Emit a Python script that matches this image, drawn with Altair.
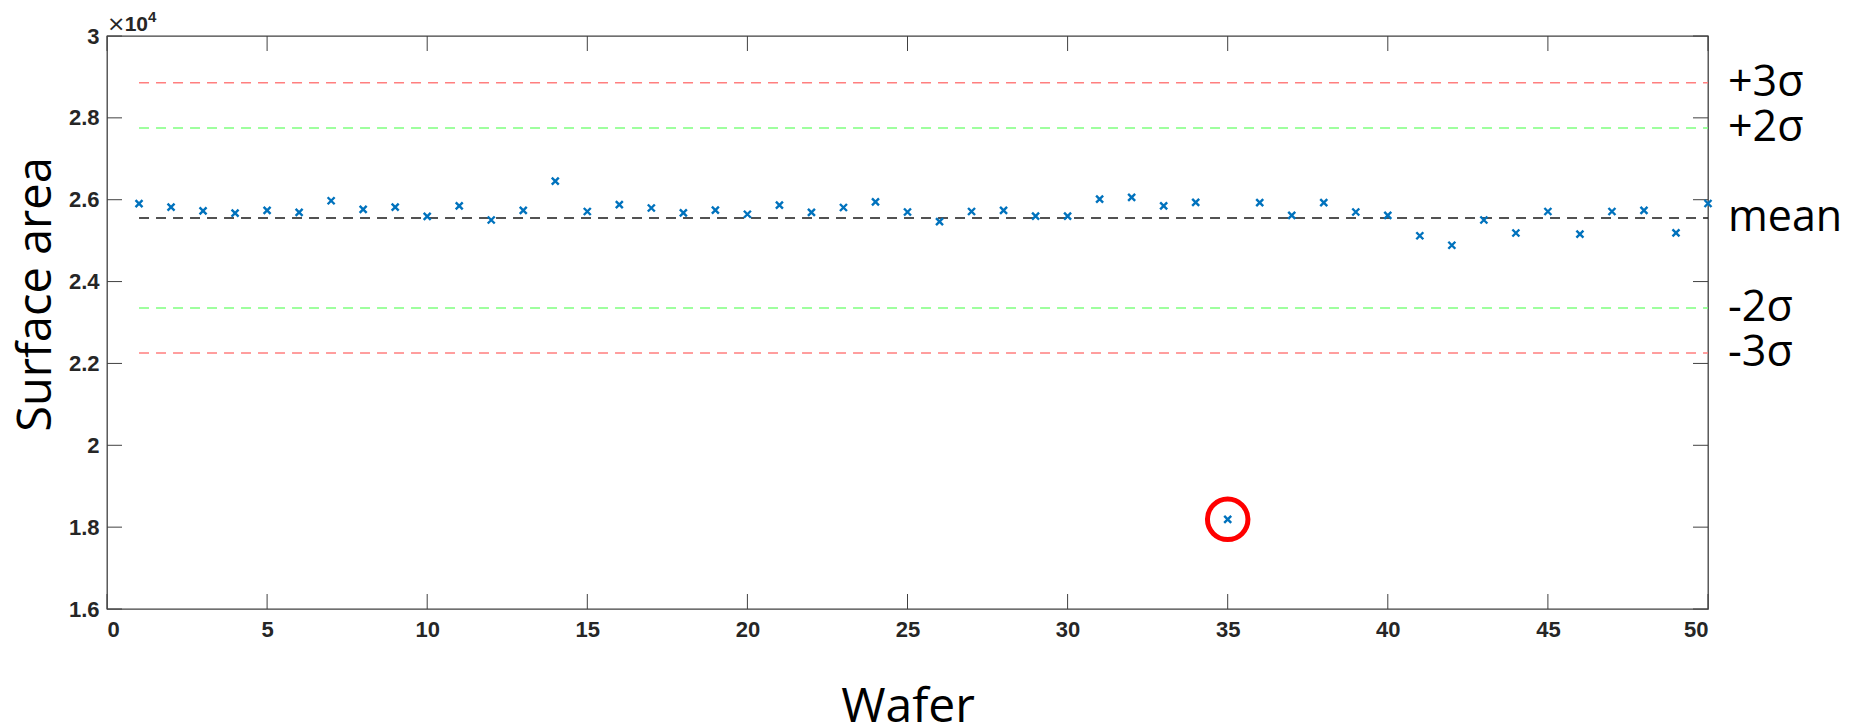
import altair as alt
import pandas as pd

# ---- data ----
wafers = list(range(1, 51))
surface_area = [
    25905, 25820, 25725, 25670, 25740, 25690, 25975, 25765, 25820, 25595,
    25850, 25505, 25740, 26455, 25712, 25880, 25797, 25678, 25745, 25645,
    25866, 25690, 25810, 25947, 25700, 25465, 25712, 25740, 25600, 25600,
    26015, 26058, 25850, 25935, 18190, 25930, 25615, 25930, 25700, 25615,
    25120, 24888, 25505, 25187, 25712, 25160, 25712, 25740, 25190, 25907,
]
level_names = ["+3σ", "+2σ", "mean", "-2σ", "-3σ"]
level_values = [28855, 27755, 25555, 23355, 22255]
level_colors = ["#FF7F7F", "#7FFF7F", "#1a1a1a", "#7FFF7F", "#FF7F7F"]
x_ticks = [0, 5, 10, 15, 20, 25, 30, 35, 40, 45, 50]
y_ticks = [16000, 18000, 20000, 22000, 24000, 26000, 28000, 30000]
highlighted_wafers = [35]

W, H = 1601, 573
TICK = 15

df = pd.DataFrame({"Wafer": wafers, "Surface area": surface_area})
levels = pd.DataFrame({
    "level": level_names,
    "Surface area": level_values,
    "x0": [wafers[0]] * len(level_names),
    "x1": [wafers[-1]] * len(level_names),
})
xt = pd.DataFrame({"Wafer": x_ticks})
yt = pd.DataFrame({"Surface area": y_ticks})
hl = df[df["Wafer"].isin(highlighted_wafers)]

xs = alt.Scale(domain=[x_ticks[0], x_ticks[-1]], nice=False, zero=False)
ys = alt.Scale(domain=[y_ticks[0], y_ticks[-1]], nice=False, zero=False)

label_font = "Liberation Sans"
x_axis = alt.Axis(
    values=x_ticks, grid=False, ticks=False, domain=False,
    labelFont=label_font, labelFontSize=22, labelFontWeight="bold", labelColor="#262626",
    labelPadding=10, format="d",
    titleFont="Open Sans", titleFontSize=48, titleFontWeight="normal", titleColor="black",
    titleY=112, titleBaseline="alphabetic",
)
y_axis = alt.Axis(
    values=y_ticks, grid=False, ticks=False, domain=False,
    labelFont=label_font, labelFontSize=22, labelFontWeight="bold", labelColor="#262626",
    labelPadding=8, labelExpr="format(datum.value / 10000, '.1~f')",
    titleFont="Open Sans", titleFontSize=47, titleFontWeight="normal", titleColor="black",
    titleAngle=270, titleX=-57, titleY=258, titleAlign="center", titleBaseline="alphabetic",
)


def X(field):
    return alt.X(field, scale=xs, axis=x_axis, title="Wafer")


def Y(field):
    return alt.Y(field, scale=ys, axis=y_axis, title="Surface area")


lines = alt.Chart(levels).mark_rule(strokeDash=[10, 7], strokeWidth=1.5).encode(
    x=X("x0:Q"),
    x2="x1:Q",
    y=Y("Surface area:Q"),
    color=alt.Color("level:N", scale=alt.Scale(domain=level_names, range=level_colors), legend=None),
)

level_labels = alt.Chart(levels).mark_text(
    align="left", baseline="alphabetic", dy=13, font="Open Sans", fontSize=43, color="black"
).encode(
    x=alt.value(W + 20),
    y=Y("Surface area:Q"),
    text="level:N",
)

tick_color = "#404040"
bottom_ticks = alt.Chart(xt).mark_rule(color=tick_color, strokeWidth=1).encode(
    x=X("Wafer:Q"), y=alt.value(H), y2=alt.value(H - TICK),
)
top_ticks = alt.Chart(xt).mark_rule(color=tick_color, strokeWidth=1).encode(
    x=X("Wafer:Q"), y=alt.value(0), y2=alt.value(TICK),
)
left_ticks = alt.Chart(yt).mark_rule(color=tick_color, strokeWidth=1).encode(
    y=Y("Surface area:Q"), x=alt.value(0), x2=alt.value(TICK),
)
right_ticks = alt.Chart(yt).mark_rule(color=tick_color, strokeWidth=1).encode(
    y=Y("Surface area:Q"), x=alt.value(W), x2=alt.value(W - TICK),
)

pts = alt.Chart(df).mark_point(
    shape="M-1,-1L1,1M-1,1L1,-1", size=49, strokeWidth=2.4, color="#0072BD", filled=False, opacity=1
).encode(x=X("Wafer:Q"), y=Y("Surface area:Q"))

circle = alt.Chart(hl).mark_point(
    shape="circle", size=1640, stroke="#FF0000", strokeWidth=5, filled=False, opacity=1
).encode(x=X("Wafer:Q"), y=Y("Surface area:Q"))

exp_times = alt.Chart(pd.DataFrame({"t": ["×"]})).mark_text(
    align="left", baseline="alphabetic", font="DejaVu Sans", fontSize=22, color="#262626"
).encode(x=alt.value(0), y=alt.value(-5), text="t:N")
exp_base = alt.Chart(pd.DataFrame({"t": ["10"]})).mark_text(
    align="right", baseline="alphabetic", font=label_font, fontSize=21, fontWeight="bold", color="#262626"
).encode(x=alt.value(41), y=alt.value(-5), text="t:N")
exp_sup = alt.Chart(pd.DataFrame({"t": ["4"]})).mark_text(
    align="left", baseline="alphabetic", font=label_font, fontSize=15, fontWeight="bold", color="#262626"
).encode(x=alt.value(41), y=alt.value(-14), text="t:N")

chart = alt.layer(
    lines, level_labels, bottom_ticks, top_ticks, left_ticks, right_ticks, pts, circle,
    exp_times, exp_base, exp_sup,
).properties(
    width=W, height=H,
    padding={"left": 107, "top": 36, "right": 152, "bottom": 119},
    autosize=alt.AutoSizeParams(type="none"),
).configure_view(stroke="#404040", strokeWidth=1.3)

chart.save("out.html", embed_options={"renderer": "svg", "actions": False})
